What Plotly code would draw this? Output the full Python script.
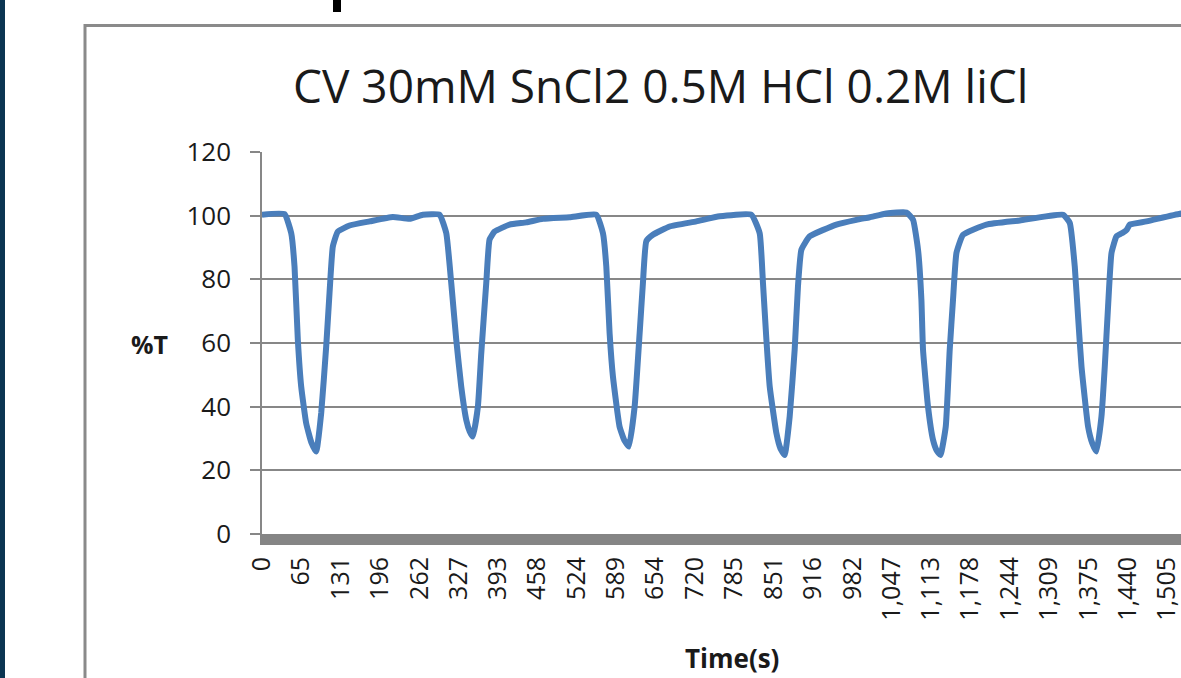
import plotly.graph_objects as go

# ---- data ----
time_s = [0, 37.4, 48.6, 54.1, 59.6, 65.2, 73.5, 82, 90.2, 98.5, 106.8, 112.3, 117.8, 126.1, 145.6,
          178.9, 217.6, 245.4, 267.6, 295.3,
          306.5, 314.8, 323.1, 331.4, 339.8, 345.5, 350.7, 359.1, 364.7, 373, 378.5, 386.9, 411.8,
          439.6, 467.2, 511.6, 556.1,
          567.1, 572.7, 578.2, 583.7, 594.8, 602.5, 610.3, 619.8, 628.1, 633.6, 639.3, 650.2, 678,
          722.5, 761.2, 814,
          827.8, 833.3, 839, 844.5, 855.6, 862.5, 869.4, 877.7, 886.0, 891.5, 897.2, 911, 955.4,
          988.7, 1010.8, 1038.6, 1071.9,
          1082.9, 1091.2, 1096.8, 1099.5, 1107.8, 1116.1, 1122.3, 1128.5, 1137.3, 1143.9, 1149.4,
          1155.1, 1166.1, 1205, 1260.4, 1332.4,
          1343.6, 1351.9, 1357.4, 1363.1, 1374.1, 1381, 1388.0, 1396.3, 1401.8, 1407.3, 1413,
          1421.3, 1432.3, 1438, 1443.5, 1471.2, 1526.6, 1540]
transmittance = [100.3, 100.5, 94.5, 84, 61, 46.3, 34.8, 28.8, 25.9, 38, 59, 75.7, 90.3, 95, 96.9,
                 98.2, 99.6, 99, 100.3, 100.3,
                 94.5, 78.8, 61, 46.3, 35.8, 32.2, 30.6, 40, 56.8, 78.8, 92.5, 95, 97.2,
                 97.9, 99, 99.5, 100.3,
                 94.5, 84, 63, 49.5, 33.7, 29.5, 27.5, 40, 63, 78.8, 92, 94, 96.6,
                 98.2, 99.8, 100.3,
                 94.5, 78.8, 61, 46.3, 31.7, 26.8, 24.8, 36.9, 57.9, 77.8, 89.3, 93.5, 97.2,
                 98.7, 99.5, 100.7, 101,
                 98.7, 89.3, 73.6, 57.9, 40, 29.6, 26.2, 24.8, 33.7, 57.9, 73.6,
                 88.3, 94, 97.2, 98.5, 100.3,
                 97.7, 84, 68.3, 52.6, 33.7, 28.5, 25.9, 36.9, 52.6, 71.5, 88.3,
                 93.5, 94.7, 95.5, 97.2, 98.2, 100.6, 100.8]

x_tick_values = [0, 65, 131, 196, 262, 327, 393, 458, 524, 589, 654, 720, 785, 851, 916, 982,
                 1047, 1113, 1178, 1244, 1309, 1375, 1440, 1505]
x_tick_labels = [f"{v:,}" for v in x_tick_values]
y_tick_values = [0, 20, 40, 60, 80, 100, 120]

title_text = "CV 30mM SnCl2 0.5M HCl 0.2M liCl"
x_title = "Time(s)"
y_title = "%T"

# ---- layout geometry (pixels) ----
W, H = 1181, 678
L, R, T, B = 262, 0, 152, 144
PW, PH = W - L - R, H - T - B


def px(xp):
    return (xp - L) / PW


def py(yp):
    return (H - B - yp) / PH


GRAY = "#878787"
FONT = "Open Sans"

fig = go.Figure()
fig.add_trace(go.Scatter(
    x=time_s, y=transmittance, mode="lines",
    line=dict(color="#4a7ebb", width=6, shape="spline", smoothing=0.4),
    showlegend=False, hoverinfo="skip",
))

fig.update_layout(
    width=W, height=H,
    margin=dict(l=L, r=R, t=T, b=B, pad=0),
    paper_bgcolor="white", plot_bgcolor="white",
    font=dict(family=FONT, color="#1a1a1a"),
    showlegend=False,
    xaxis=dict(
        range=[0, 1528.6], tickmode="array", tickvals=x_tick_values, ticktext=x_tick_labels,
        tickangle=-90, tickfont=dict(size=25, color="#1a1a1a", family=FONT),
        showgrid=False, zeroline=False, showline=True, linecolor="#858585", linewidth=11,
        ticks="", ticklabelstandoff=2, ticklabeloverflow="allow",
    ),
    yaxis=dict(
        range=[0, 120], tickmode="array", tickvals=y_tick_values,
        tickfont=dict(size=26, color="#1a1a1a", family=FONT),
        showgrid=True, gridcolor=GRAY, gridwidth=1.5, zeroline=False,
        showline=True, linecolor=GRAY, linewidth=1.5,
        ticks="outside", ticklen=10, tickwidth=1.5, tickcolor=GRAY,
        ticklabelstandoff=14,
    ),
    shapes=[
        # chart-area frame
        dict(type="rect", xref="paper", yref="paper",
             x0=px(85), x1=px(1300), y0=py(800), y1=py(25.5),
             line=dict(color="#8a8a8a", width=3), fillcolor="rgba(0,0,0,0)", layer="below"),
        # dark strip at left edge
        dict(type="rect", xref="paper", yref="paper",
             x0=px(0), x1=px(5), y0=py(H), y1=py(0),
             line=dict(width=0), fillcolor="#0b3552", layer="above"),
        # black bar at the top
        dict(type="rect", xref="paper", yref="paper",
             x0=px(333), x1=px(341), y0=py(12), y1=py(0),
             line=dict(width=0), fillcolor="black", layer="above"),
    ],
    annotations=[
        dict(text=title_text, xref="paper", yref="paper", x=px(660), y=py(85),
             xanchor="center", yanchor="middle", showarrow=False,
             font=dict(size=46, color="#1a1a1a", family=FONT)),
        dict(text=f"<b>{y_title}</b>", xref="paper", yref="paper", x=px(149), y=py(344),
             xanchor="center", yanchor="middle", showarrow=False,
             font=dict(size=25, color="#1a1a1a", family=FONT)),
        dict(text=f"<b>{x_title}</b>", xref="paper", yref="paper", x=px(732), y=py(658),
             xanchor="center", yanchor="middle", showarrow=False,
             font=dict(size=26, color="#1a1a1a", family=FONT)),
    ],
)

fig.write_html(
    "out.html",
    config={"displayModeBar": False},
    post_script="document.body.style.margin='0';document.body.style.overflow='hidden';",
)
